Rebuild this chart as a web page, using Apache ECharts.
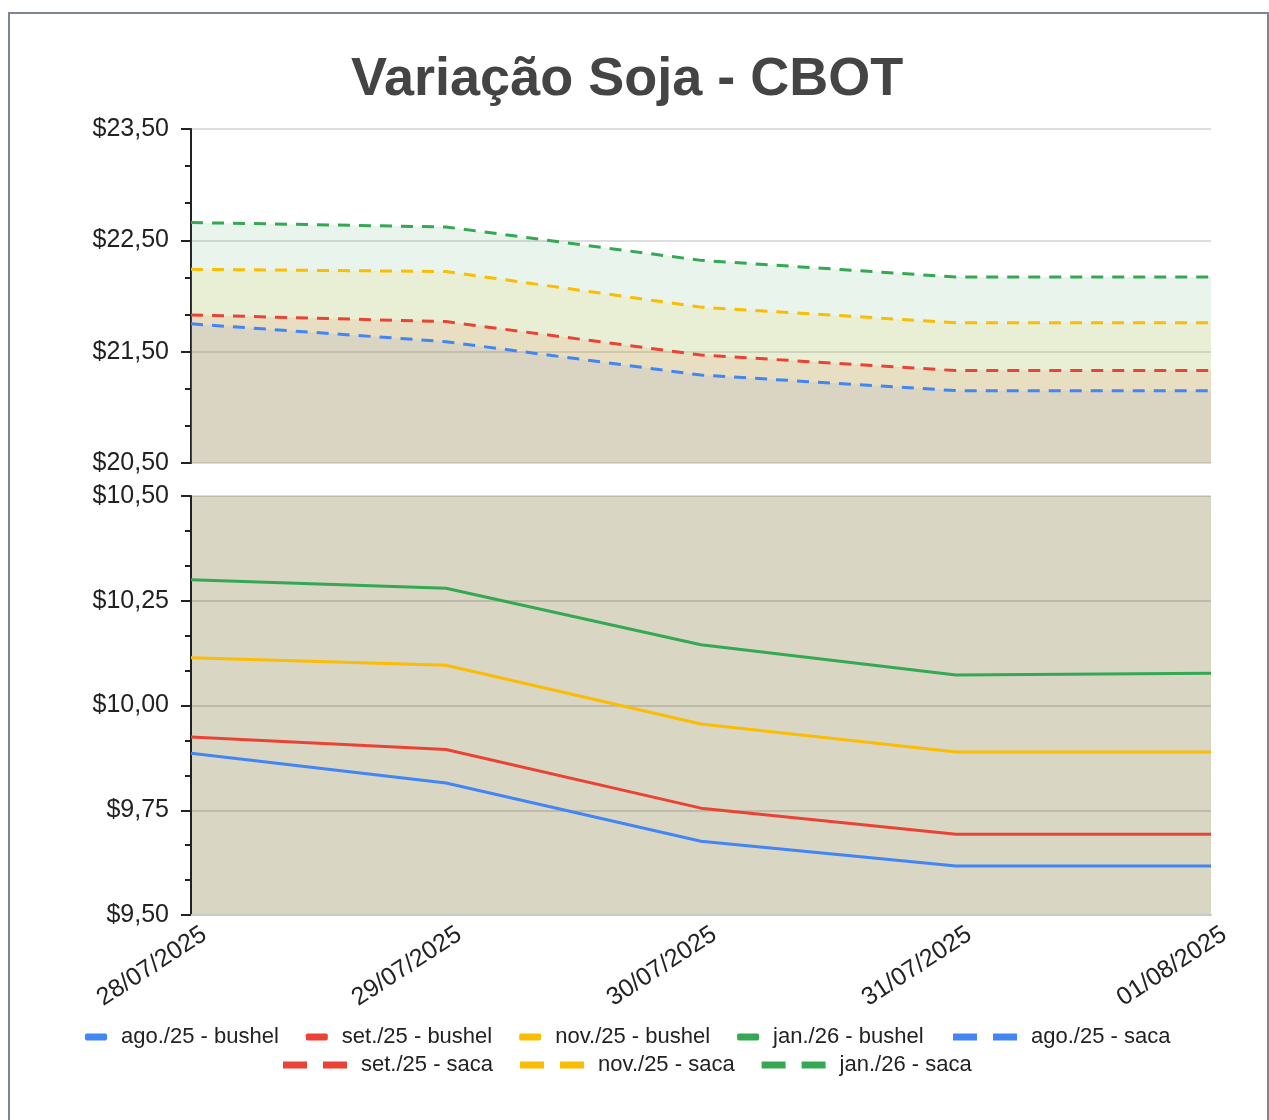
<!DOCTYPE html>
<html lang="pt">
<head>
    <meta charset="UTF-8">
    <title>Variação Soja - CBOT</title>
    <script src="https://cdn.jsdelivr.net/npm/echarts@6/dist/echarts.min.js"></script>
    <style>
        body { margin: 0; background: #fff; }
        #frame {
            position: absolute; left: 8px; top: 12px; width: 1257px; height: 1120px;
            border: 2px solid #7d8493; border-bottom: none; pointer-events: none;
        }
        #main { position: absolute; left: 0; top: 0; width: 1269px; height: 1120px; }
    </style>
</head>
<body>
<div id="main"></div>
<div id="frame"></div>
<script type="text/javascript">
    var dates = ['28/07/2025', '29/07/2025', '30/07/2025', '31/07/2025', '01/08/2025'];

    // bushel (US$/bu)
    var agoBushel = [9.886, 9.815, 9.676, 9.617, 9.617];
    var setBushel = [9.925, 9.895, 9.755, 9.693, 9.693];
    var novBushel = [10.114, 10.096, 9.956, 9.889, 9.889];
    var janBushel = [10.300, 10.280, 10.145, 10.073, 10.077];

    // saca (US$/sc)
    var agoSaca = [21.75, 21.59, 21.29, 21.15, 21.15];
    var setSaca = [21.83, 21.77, 21.47, 21.33, 21.33];
    var novSaca = [22.24, 22.22, 21.90, 21.76, 21.76];
    var janSaca = [22.66, 22.62, 22.32, 22.17, 22.17];

    var colors = {ago: '#4285f4', set: '#ea4335', nov: '#fbbc04', jan: '#34a853'};
    var font = 'Liberation Sans, Arial, sans-serif';
    var dashIcon = 'path://M0,0H24V7H0Z M40,0H64V7H40Z';

    function money(v) {
        return '$' + v.toFixed(2).replace('.', ',');
    }

    function yAxisCfg(gridIndex, min, max, interval) {
        return {
            type: 'value', gridIndex: gridIndex, min: min, max: max, interval: interval,
            axisLine: {show: true, lineStyle: {color: '#222', width: 2}},
            axisTick: {show: true, length: 10, lineStyle: {color: '#222', width: 2}},
            minorTick: {show: true, splitNumber: 3, length: 6, lineStyle: {color: '#222', width: 2}},
            axisLabel: {
                formatter: money, color: '#222', fontSize: 25, fontFamily: font, margin: 22
            },
            splitLine: {show: true, lineStyle: {color: 'rgba(0,0,0,0.13)', width: 2}}
        };
    }

    function bushel(name, key, data) {
        return {
            name: name, type: 'line', xAxisIndex: 1, yAxisIndex: 1, data: data,
            showSymbol: false, symbol: 'none',
            lineStyle: {color: colors[key], width: 3},
            itemStyle: {color: colors[key]}
        };
    }

    function saca(name, key, data) {
        return {
            name: name, type: 'line', xAxisIndex: 0, yAxisIndex: 0, data: data,
            showSymbol: false, symbol: 'none',
            lineStyle: {color: colors[key], width: 3, type: [12, 9]},
            itemStyle: {color: colors[key]},
            areaStyle: {color: colors[key], opacity: 0.11}
        };
    }

    var legendText = {color: '#222', fontSize: 22, fontFamily: font, padding: [0, 0, 0, 9]};

    var myChart = echarts.init(document.getElementById('main'));
    myChart.setOption({
        animation: false,
        title: {
            text: 'Variação Soja - CBOT',
            left: 346, top: 48,
            textStyle: {fontSize: 54, fontWeight: 'bold', color: '#444', fontFamily: font}
        },
        legend: [
            {
                left: 80, top: 1021, itemWidth: 22, itemHeight: 7, itemGap: 27,
                icon: 'roundRect', textStyle: legendText,
                data: ['ago./25 - bushel', 'set./25 - bushel', 'nov./25 - bushel', 'jan./26 - bushel']
            },
            {
                left: 948, top: 1021, itemWidth: 64, itemHeight: 7, itemGap: 27,
                icon: dashIcon, textStyle: legendText,
                data: ['ago./25 - saca']
            },
            {
                left: 278, top: 1049, itemWidth: 64, itemHeight: 7, itemGap: 27,
                icon: dashIcon, textStyle: legendText,
                data: ['set./25 - saca', 'nov./25 - saca', 'jan./26 - saca']
            }
        ],
        grid: [
            {left: 191, right: 58, top: 129, height: 334},
            {left: 191, right: 58, top: 496, height: 419,
             show: true, backgroundColor: '#d9d6c3', borderWidth: 0}
        ],
        xAxis: [
            {
                type: 'category', gridIndex: 0, data: dates, boundaryGap: false,
                axisLine: {show: false}, axisTick: {show: false}, axisLabel: {show: false}
            },
            {
                type: 'category', gridIndex: 1, data: dates, boundaryGap: false,
                axisLine: {show: true, lineStyle: {color: '#c9c9c9', width: 2}},
                axisTick: {show: false},
                axisLabel: {
                    rotate: 33, color: '#222', fontSize: 25, fontFamily: font, margin: 26,
                    padding: [0, -16, 0, 0]
                }
            }
        ],
        yAxis: [
            yAxisCfg(0, 20.5, 23.5, 1),
            yAxisCfg(1, 9.5, 10.5, 0.25)
        ],
        series: [
            bushel('ago./25 - bushel', 'ago', agoBushel),
            bushel('set./25 - bushel', 'set', setBushel),
            bushel('nov./25 - bushel', 'nov', novBushel),
            bushel('jan./26 - bushel', 'jan', janBushel),
            saca('ago./25 - saca', 'ago', agoSaca),
            saca('set./25 - saca', 'set', setSaca),
            saca('nov./25 - saca', 'nov', novSaca),
            saca('jan./26 - saca', 'jan', janSaca)
        ]
    });
</script>
</body>
</html>
